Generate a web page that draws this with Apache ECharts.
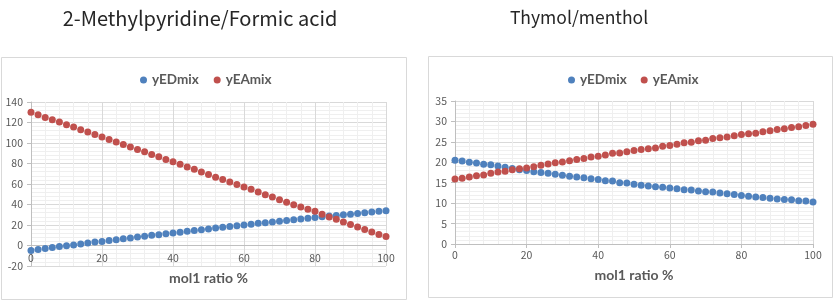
<!DOCTYPE html>
<html><head><meta charset="utf-8">
<script src="https://cdn.jsdelivr.net/npm/echarts@6/dist/echarts.min.js"></script>
<style>html,body{margin:0;padding:0;background:#fff}#c{width:834px;height:302px}</style>
</head><body><div id="c"></div>
<script>
const molRatio = [0,2,4,6,8,10,12,14,16,18,20,22,24,26,28,30,32,34,36,38,40,42,44,46,48,50,52,54,56,58,60,62,64,66,68,70,72,74,76,78,80,82,84,86,88,90,92,94,96,98,100];

// 2-Methylpyridine/Formic acid
const leftED = [-4.9,-3.8,-3.0,-1.9,-1.0,-0.3,0.6,1.5,2.4,3.3,4.0,
  4.9,5.7,6.6,7.4,8.2,9.1,9.9,10.6,11.4,12.2,
  13.0,13.8,14.6,15.4,16.2,17.0,17.7,18.5,19.3,20.1,
  20.8,21.6,22.3,23.0,23.7,24.5,25.2,25.9,26.6,27.3,
  28.0,28.7,29.3,30.0,30.6,31.3,31.9,32.6,33.3,34.0];
const leftEA = [130,127.6,125,122.7,120.5,117.9,115.6,113,110.7,108.4,105.8,
  103.5,100.9,98.6,96,93.7,91.4,88.8,86.5,83.9,81.6,
  79.3,76.7,74.4,71.8,69.2,66.6,64.3,62.0,59.4,57.1,
  54.8,52.2,49.6,47.3,44.7,42.1,39.8,37.5,35.3,33.3,
  30.4,27.7,25.5,22.9,20.6,18.0,15.7,13.1,10.8,8.8];

// Thymol/menthol
const rightED = [20.5,20.3,20.0,19.8,19.5,19.4,19.1,18.8,18.5,18.2,18.0,
  17.7,17.5,17.3,17.1,16.8,16.6,16.4,16.2,16.0,15.8,
  15.5,15.4,15.0,14.9,14.6,
  14.4,14.2,14.0,13.9,13.7,13.5,13.3,13.2,13.0,12.8,12.7,12.5,12.3,12.1,11.9,11.7,11.5,11.4,11.2,11.0,10.9,10.8,10.6,10.5,10.3];
const rightEA = [15.9,16.1,16.4,16.7,16.9,17.3,17.6,17.8,18.2,18.4,18.6,
  18.9,19.3,19.6,19.9,20.1,20.4,20.7,20.9,21.3,21.5,
  21.8,22.2,22.3,22.6,22.9,
  23.1,23.3,23.5,23.9,24.1,24.4,24.8,24.9,25.3,25.4,25.8,26.0,26.2,26.5,26.8,27.0,27.1,27.5,27.7,28.0,28.2,28.5,28.7,29.0,29.3];

const titles = ['2-Methylpyridine/Formic acid', 'Thymol/menthol'];
const seriesNames = ['yEDmix', 'yEAmix'];
const xAxisName = 'mol1 ratio %';

const BLUE = '#4F81BD', RED = '#C0504D';
const pairs = (ys) => molRatio.map((x, i) => [x, ys[i]]);
const tickFont = {fontFamily: '"Noto Sans CJK JP", "Noto Sans", sans-serif', fontSize: 10.5, color: '#595959'};

function xAx(gi, nameGap, labelMargin, inside) {
  return {
    gridIndex: gi, type: 'value', min: 0, max: 100, interval: 20,
    name: xAxisName, nameLocation: 'middle', nameGap: nameGap,
    nameTextStyle: {fontFamily: 'Lato, "Open Sans", sans-serif', fontWeight: 'bold', fontSize: 14, color: '#595959'},
    axisLine: {show: !inside, onZero: false, lineStyle: {color: '#bfbfbf', width: 1}},
    axisTick: {show: !inside, length: 4, lineStyle: {color: '#bfbfbf'}},
    axisLabel: Object.assign({margin: labelMargin, inside: inside}, tickFont),
    splitLine: {show: true, lineStyle: {color: '#d9d9d9', width: 1}},
    minorTick: {show: false, splitNumber: 5},
    minorSplitLine: {show: true, lineStyle: {color: '#efefef', width: 1}}
  };
}
function yAx(gi, min, max, interval) {
  return {
    gridIndex: gi, type: 'value', min: min, max: max, interval: interval,
    axisLine: {show: true, onZero: false, lineStyle: {color: '#bfbfbf', width: 1}},
    axisTick: {show: true, length: 4, lineStyle: {color: '#bfbfbf'}},
    axisLabel: Object.assign({margin: 8}, tickFont),
    splitLine: {show: true, lineStyle: {color: '#d9d9d9', width: 1}},
    minorTick: {show: false, splitNumber: 5},
    minorSplitLine: {show: true, lineStyle: {color: '#efefef', width: 1}}
  };
}
function sc(name, xi, data, color, extra) {
  return Object.assign({type: 'scatter', name: name, xAxisIndex: xi, yAxisIndex: xi, data: data,
    symbol: 'circle', symbolSize: 7, itemStyle: {color: color, opacity: 1}, silent: true, animation: false}, extra || {});
}
const legendText = {fontFamily: 'Lato, "Open Sans", sans-serif', fontWeight: 'bold', fontSize: 13.5, color: '#595959'};

const zeroLine = {markLine: {silent: true, symbol: 'none', animation: false, label: {show: false},
  lineStyle: {color: '#bfbfbf', type: 'solid', width: 1}, data: [{yAxis: 0}], z: 1}};

const chart = echarts.init(document.getElementById('c'), null, {renderer: 'canvas'});
chart.setOption({
  animation: false,
  backgroundColor: '#fff',
  graphic: [
    {type: 'rect', shape: {x: 1.5, y: 57.5, width: 405, height: 242}, style: {fill: 'none', stroke: '#d9d9d9', lineWidth: 1}, z: -1},
    {type: 'rect', shape: {x: 428.5, y: 56.5, width: 404, height: 241}, style: {fill: 'none', stroke: '#d9d9d9', lineWidth: 1}, z: -1},
    {type: 'text', x: 200, y: 18, style: {text: titles[0], font: '20px "Noto Sans CJK JP", "Noto Sans", sans-serif', fill: '#262626', textAlign: 'center', textVerticalAlign: 'middle'}},
    {type: 'text', x: 579, y: 17, style: {text: titles[1], font: '17.5px "Noto Sans CJK JP", "Noto Sans", sans-serif', fill: '#262626', textAlign: 'center', textVerticalAlign: 'middle'}}
  ],
  legend: [
    {data: seriesNames, left: 135, top: 68, icon: 'circle', itemWidth: 7, itemHeight: 7, itemGap: 15, textStyle: legendText, selectedMode: false},
    {data: seriesNames, left: 563, top: 68, icon: 'circle', itemWidth: 7, itemHeight: 7, itemGap: 14, textStyle: legendText, selectedMode: false}
  ],
  grid: [
    {left: 31, right: 448, top: 102, bottom: 36, containLabel: false, outerBoundsMode: 'none'},
    {left: 455, right: 21, top: 101, bottom: 58, containLabel: false, outerBoundsMode: 'none'}
  ],
  xAxis: [xAx(0, 5, 3, true), xAx(1, 24, 6, false)],
  yAxis: [yAx(0, -20, 140, 20), yAx(1, 0, 35, 5)],
  series: [
    sc(seriesNames[0], 0, pairs(leftED), BLUE, zeroLine),
    sc(seriesNames[1], 0, pairs(leftEA), RED),
    sc(seriesNames[0], 1, pairs(rightED), BLUE),
    sc(seriesNames[1], 1, pairs(rightEA), RED)
  ]
});
</script></body></html>
